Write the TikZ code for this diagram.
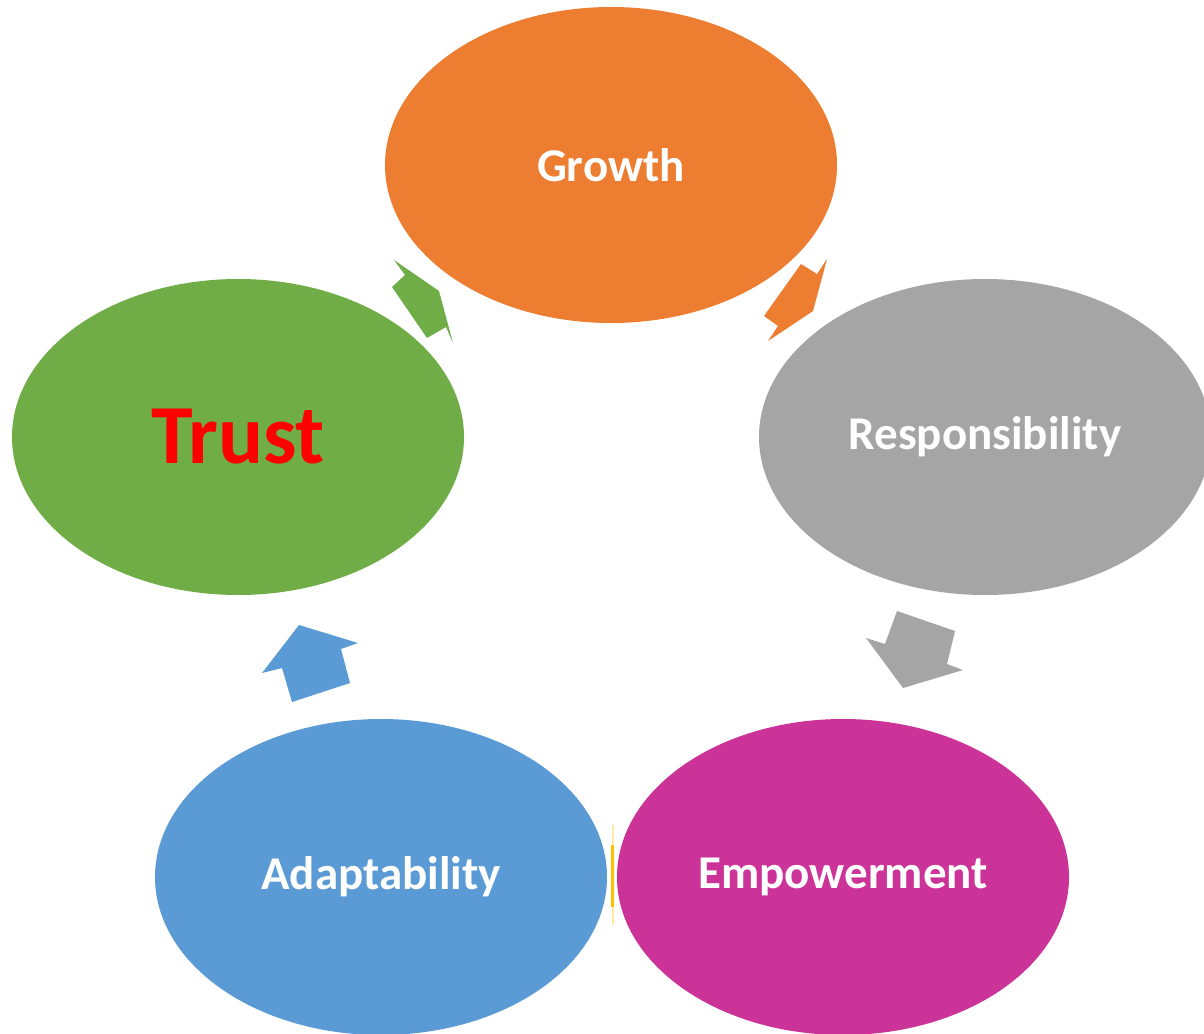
\documentclass[tikz,border=0pt]{standalone}
\usepackage{fontspec}
\setmainfont{Carlito}
\usetikzlibrary{shapes.geometric}
\definecolor{cOrange}{HTML}{ED7D31}
\definecolor{cGray}{HTML}{A5A5A5}
\definecolor{cMag}{HTML}{CC3399}
\definecolor{cBlue}{HTML}{5B9BD5}
\definecolor{cGreen}{HTML}{70AD47}
\definecolor{cYel}{HTML}{FFC000}
\tikzset{
  bubble/.style={ellipse, minimum width=452pt, minimum height=316pt, inner sep=0pt, draw=none, text=white, font=\bfseries\fontsize{47}{50}\selectfont},
  blockarrow/.style={draw=none}
}
\begin{document}
\begin{tikzpicture}[x=1pt,y=-1pt]
\useasboundingbox (0,0) rectangle (1204,1033);
\clip (0,0) rectangle (1204,1033);
\fill[white] (0,0) rectangle (1204,1033);
\node[bubble, fill=cOrange] (growth) at (611,165) {Growth};
\node[bubble, fill=cGray] (resp) at (985,437) {Responsibility};
\node[bubble, fill=cMag] (emp) at (843,877) {Empowerment};
\node[bubble, fill=cBlue] (adapt) at (381,877) {Adaptability};
\node[bubble, fill=cGreen, text=red, font=\bfseries\fontsize{84}{88}\selectfont] (trust) at (238,437) {Trust};
% block arrows
\fill[cGreen] (394,260) -- (439,291) -- (453,343) -- (446,327) -- (427,338) -- (392,287) -- (405,275) -- cycle;
\fill[cOrange] (827,259) -- (813,311) -- (768,341) -- (778,326) -- (764,316) -- (801,264) -- (817,274) -- cycle;
\fill[cGray] (897,611) -- (955,631) -- (947,664) -- (963,670) -- (903,688) -- (866,638) -- (885,644) -- cycle;
\fill[cBlue] (299,625) -- (358,643) -- (341,649) -- (350,683) -- (292,702) -- (282,668) -- (262,673) -- cycle;
\fill[cYel] (611,845) rectangle (614,907);
\fill[cYel!35] (611.5,825) rectangle (613.5,845);
\fill[cYel!35] (611.5,907) rectangle (613.5,925);
\end{tikzpicture}
\end{document}
